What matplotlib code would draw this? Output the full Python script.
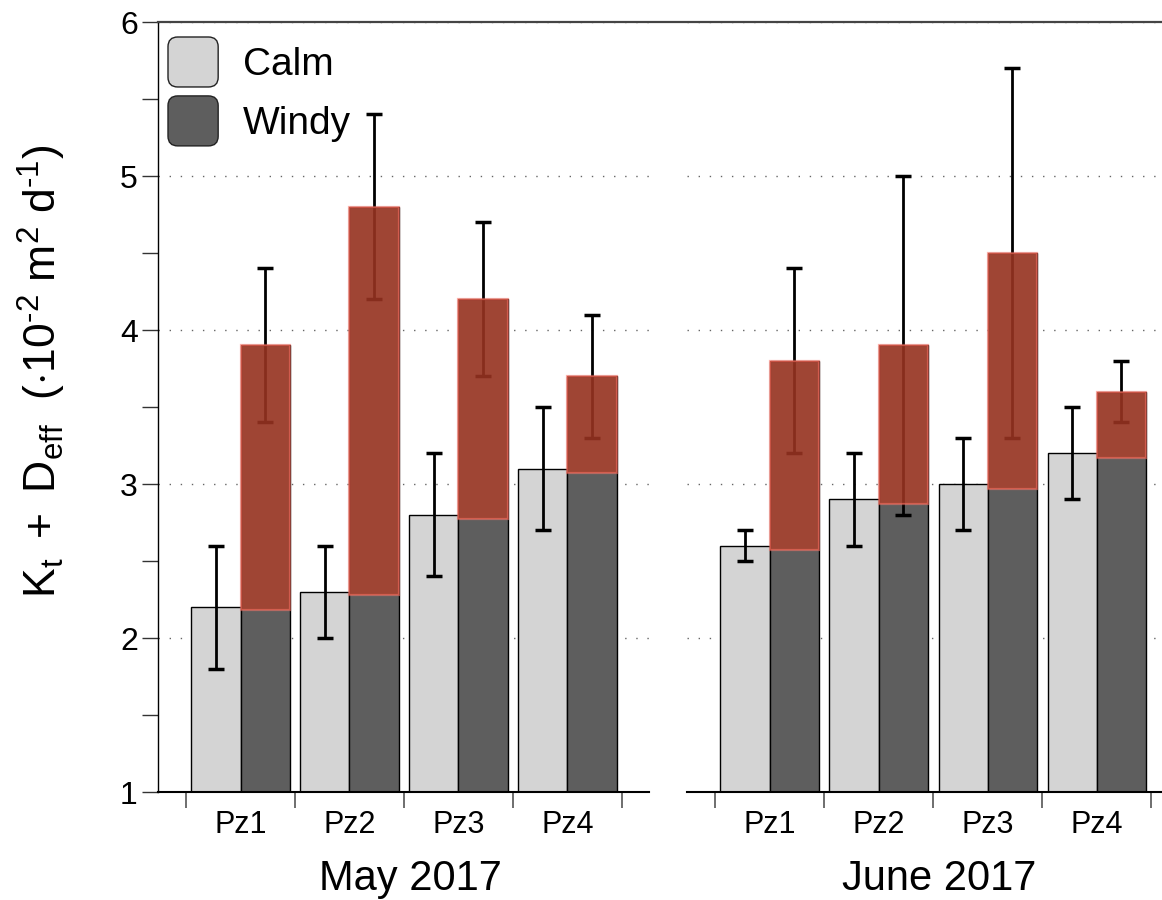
import matplotlib
matplotlib.use('Agg')
import matplotlib.pyplot as plt
from matplotlib.patches import Patch, FancyBboxPatch
from matplotlib.legend_handler import HandlerBase
from matplotlib.lines import Line2D
import numpy as np

# Plot parameters
params = {
    'font.family': ['Liberation Sans', 'DejaVu Sans'],
    'mathtext.fontset': 'custom',
    'mathtext.rm': 'Liberation Sans',
    'mathtext.it': 'Liberation Sans:italic',
    'mathtext.bf': 'Liberation Sans:bold',
    'axes.linewidth': 1.0,
}
plt.rcParams.update(params)

# Data
groups = ['Pz1', 'Pz2', 'Pz3', 'Pz4']
months = ['May 2017', 'June 2017']

may_calm = [2.2, 2.3, 2.8, 3.1]
may_calm_err = [0.4, 0.3, 0.4, 0.4]
may_windy = [3.9, 4.8, 4.2, 3.7]
may_windy_err = [0.5, 0.6, 0.5, 0.4]
may_red_base = [2.18, 2.28, 2.77, 3.07]

june_calm = [2.6, 2.9, 3.0, 3.2]
june_calm_err = [0.1, 0.3, 0.3, 0.3]
june_windy = [3.8, 3.9, 4.5, 3.6]
june_windy_err = [0.6, 1.1, 1.2, 0.2]
june_red_base = [2.57, 2.87, 2.97, 3.17]

calm_col = '#d4d4d4'
windy_col = '#5e5e5e'
red_face = (0.714, 0.239, 0.153, 0.75)
red_edge = (1.0, 0.45, 0.40, 0.55)


class RoundHandler(HandlerBase):
    def create_artists(self, legend, orig_handle, xdescent, ydescent,
                       width, height, fontsize, trans):
        p = FancyBboxPatch((-xdescent, -ydescent), width, height,
                           boxstyle='round,pad=0,rounding_size=7',
                           facecolor=orig_handle.get_facecolor(),
                           edgecolor='#222222', linewidth=1.0, transform=trans)
        return [p]


W, H = 1162, 900
fig = plt.figure(figsize=(W / 100, H / 100), dpi=100)
ax1 = fig.add_axes([158 / W, 1 - 792 / H, (649 - 158) / W, (792 - 22) / H])
ax2 = fig.add_axes([687 / W, 1 - 792 / H, (1162 - 687) / W, (792 - 22) / H], sharey=ax1)

panels = [
    (ax1, may_calm, may_calm_err, may_windy, may_windy_err, may_red_base, (0.243, 4.748)),
    (ax2, june_calm, june_calm_err, june_windy, june_windy_err, june_red_base, (0.243, 4.60)),
]
x = np.arange(1, len(groups) + 1)
bw = 0.45
for ax, calm, calm_err, windy, windy_err, red_base, xl in panels:
    ax.bar(x - bw / 2, calm, width=bw, color=calm_col, edgecolor='black', linewidth=1.0, zorder=2)
    ax.bar(x + bw / 2, windy, width=bw, color=windy_col, edgecolor='black', linewidth=1.0, zorder=2)
    ax.errorbar(x - bw / 2, calm, yerr=calm_err, fmt='none', ecolor='black',
                elinewidth=2, capsize=6.1, capthick=2.5, zorder=3)
    ax.errorbar(x + bw / 2, windy, yerr=windy_err, fmt='none', ecolor='black',
                elinewidth=2, capsize=6.1, capthick=2.5, zorder=3)
    heights = [w - b for w, b in zip(windy, red_base)]
    ax.bar(x + bw / 2, heights, bottom=red_base, width=bw, facecolor=red_face,
           edgecolor=red_edge, linewidth=1.6, zorder=4)

    ax.set_xlim(xl)
    ax.set_ylim(1, 6)
    ax.set_xticks(np.arange(0.5, len(groups) + 1, 1.0))
    ax.set_xticklabels([])
    ax.set_xticks(x, minor=True)
    ax.set_xticklabels(groups, minor=True, fontsize=22)
    ax.tick_params(axis='x', which='major', direction='out', length=11.5, width=1.2, color='#555555')
    ax.tick_params(axis='x', which='minor', length=0, pad=13)
    ax.set_axisbelow(True)
    ax.yaxis.grid(True, linestyle=(0, (1, 7)), color='#666666', linewidth=1.0)
    ax.spines['top'].set_visible(False)
    ax.spines['right'].set_visible(False)
    ax.spines['bottom'].set_linewidth(1.5)

ax1.set_yticks([1, 2, 3, 4, 5, 6])
ax1.set_yticks(np.arange(1.5, 6, 1.0), minor=True)
ax1.tick_params(axis='y', which='both', direction='out', length=11.5, width=1.0,
                color='#333333', labelsize=23, pad=3)
ax2.spines['left'].set_visible(False)
ax2.tick_params(axis='y', which='both', left=False, labelleft=False)

# top border across both panels
fig.add_artist(Line2D([158 / W, 1.0], [1 - 22 / H, 1 - 22 / H], color='#444444',
                      linewidth=1.6, transform=fig.transFigure))

# month labels
fig.text(410 / W, 1 - 890 / H, months[0], ha='center', va='baseline', fontsize=30)
fig.text(939 / W, 1 - 890 / H, months[1], ha='center', va='baseline', fontsize=30)

# y label
fig.text(42 / W, 1 - 371 / H,
         '$\\mathrm{K_t\\ +\\ D_{eff}}$  $(\\cdot\\mathrm{10^{\u20102}\\ m^2\\ d^{\u20101}})$',
         rotation=90, ha='center', va='center', fontsize=32)

# legend
handles = [Patch(facecolor=calm_col), Patch(facecolor=windy_col)]
ax1.legend(handles, ['Calm', 'Windy'], handler_map={Patch: RoundHandler()},
           loc='upper left', bbox_to_anchor=(168 / W, 1 - 37 / H),
           bbox_transform=fig.transFigure, frameon=False, fontsize=28,
           handlelength=1.29, handleheight=1.6, labelspacing=0.23,
           handletextpad=0.64, borderpad=0, borderaxespad=0)

fig.savefig('out.png', dpi=100)
